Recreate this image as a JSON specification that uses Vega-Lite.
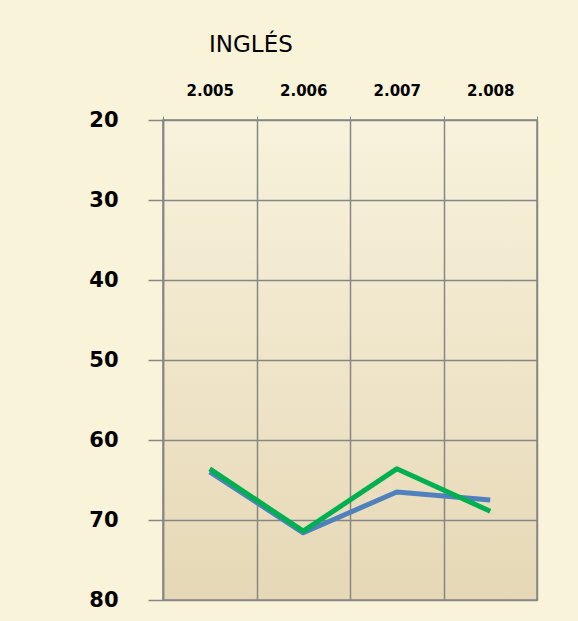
{
  "$schema": "https://vega.github.io/schema/vega-lite/v6.json",
  "autosize": {"type": "none"},
  "width": 374,
  "height": 480,
  "padding": {"left": 163, "top": 120, "right": 41, "bottom": 21},
  "background": "#f9f3da",
  "title": {
    "text": "INGLÉS",
    "anchor": "start",
    "frame": "group",
    "dx": 46,
    "offset": 26,
    "font": "DejaVu Sans",
    "fontSize": 23,
    "fontWeight": "normal",
    "color": "#000000"
  },
  "data": {
    "values": [
      {"year": "2.005", "series": "Serie 1", "value": 64.0},
      {"year": "2.006", "series": "Serie 1", "value": 71.6},
      {"year": "2.007", "series": "Serie 1", "value": 66.5},
      {"year": "2.008", "series": "Serie 1", "value": 67.5},
      {"year": "2.005", "series": "Serie 2", "value": 63.6},
      {"year": "2.006", "series": "Serie 2", "value": 71.4},
      {"year": "2.007", "series": "Serie 2", "value": 63.6},
      {"year": "2.008", "series": "Serie 2", "value": 68.9}
    ]
  },
  "mark": {"type": "line", "strokeWidth": 5, "strokeJoin": "round"},
  "encoding": {
    "x": {
      "field": "year",
      "type": "ordinal",
      "sort": null,
      "scale": {"type": "band", "paddingInner": 0, "paddingOuter": 0},
      "axis": {
        "orient": "top",
        "title": null,
        "labelAngle": 0,
        "tickBand": "extent",
        "grid": true,
        "gridColor": "#868686",
        "gridWidth": 1.5,
        "gridOpacity": 1,
        "domain": false,
        "ticks": true,
        "tickSize": 4,
        "tickColor": "#868686",
        "labelPadding": 18,
        "labelFont": "DejaVu Sans",
        "labelFontSize": 15,
        "labelFontWeight": "bold",
        "labelColor": "#000000"
      }
    },
    "y": {
      "field": "value",
      "type": "quantitative",
      "scale": {"domain": [20, 80], "reverse": true, "nice": false, "zero": false},
      "axis": {
        "title": null,
        "values": [20, 30, 40, 50, 60, 70, 80],
        "grid": true,
        "gridColor": "#868686",
        "gridWidth": 1.5,
        "gridOpacity": 1,
        "domain": true,
        "domainColor": "#868686",
        "domainWidth": 1.5,
        "tickSize": 15,
        "tickColor": "#868686",
        "tickWidth": 1.5,
        "labelPadding": 30,
        "labelFont": "DejaVu Sans",
        "labelFontSize": 21,
        "labelFontWeight": "bold",
        "labelColor": "#000000"
      }
    },
    "color": {
      "field": "series",
      "type": "nominal",
      "scale": {"domain": ["Serie 1", "Serie 2"], "range": ["#4f81bd", "#00b050"]},
      "legend": null
    },
    "order": {"field": "series"}
  },
  "config": {
    "view": {
      "fill": {
        "gradient": "linear",
        "x1": 0, "y1": 0, "x2": 0, "y2": 1,
        "stops": [
          {"offset": 0, "color": "#f8f2dc"},
          {"offset": 1, "color": "#e6d8b6"}
        ]
      },
      "stroke": "#868686",
      "strokeWidth": 1.5
    }
  }
}
